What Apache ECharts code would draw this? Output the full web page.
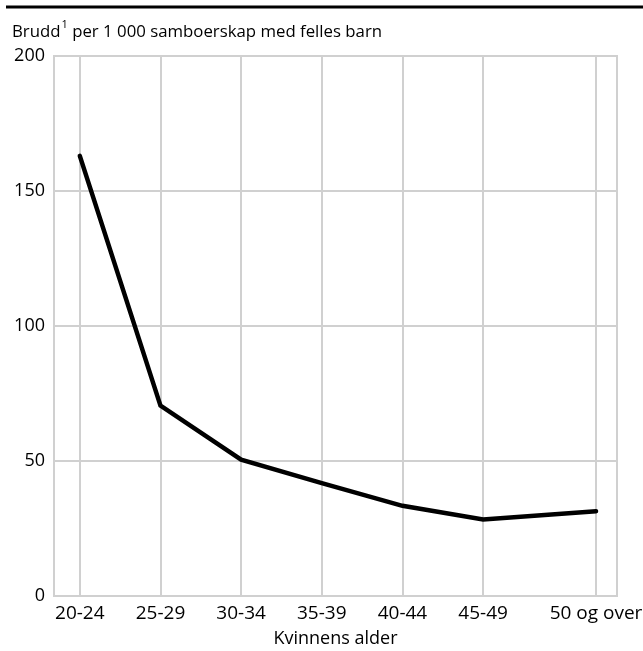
<!DOCTYPE html>
<html>
<head>
<meta charset="utf-8">
<script src="https://cdn.jsdelivr.net/npm/echarts@6/dist/echarts.min.js"></script>
<style>html,body{margin:0;padding:0;background:#fff}#c{width:643px;height:651px}</style>
</head>
<body>
<div id="c"></div>
<script>
const categories = ['20-24', '25-29', '30-34', '35-39', '40-44', '45-49', '50 og over'];
const ages = [22, 27, 32, 37, 42, 47, 54];
const values = [163, 70.5, 50.5, 41.8, 33.4, 28.3, 31.4];
const yTicks = [0, 50, 100, 150, 200];

const FONT = '"Open Sans", "Noto Sans", sans-serif';
const chart = echarts.init(document.getElementById('c'), null, {renderer: 'canvas'});
chart.setOption({
  animation: false,
  backgroundColor: '#fff',
  textStyle: {fontFamily: FONT},
  title: {
    text: '{a|Brudd}{s|1}{a| per 1 000 samboerskap med felles barn}',
    left: 7, top: 14,
    textStyle: {
      fontWeight: 'normal',
      rich: {
        a: {fontFamily: FONT, fontSize: 16.8, fontWeight: 'normal', color: '#000', verticalAlign: 'bottom', lineHeight: 22},
        s: {fontFamily: FONT, fontSize: 11, fontWeight: 'normal', color: '#000', verticalAlign: 'top', lineHeight: 22, padding: [0, 0, 9, 1]}
      }
    }
  },
  graphic: [{
    type: 'line', shape: {x1: 6, y1: 7, x2: 643, y2: 7},
    style: {stroke: '#000', lineWidth: 3}
  }],
  grid: {
    left: 54, right: 26, top: 56, bottom: 55,
    containLabel: false, outerBoundsMode: 'none',
    show: true, borderColor: '#d0d0d0', borderWidth: 2
  },
  xAxis: {
    type: 'value', min: 20.4, max: 55.3,
    name: 'Kvinnens alder', nameLocation: 'middle', nameGap: 34,
    nameTextStyle: {fontFamily: FONT, fontSize: 18, color: '#000'},
    axisLine: {show: false},
    axisTick: {show: false, customValues: ages},
    axisLabel: {
      customValues: ages, margin: 8,
      fontFamily: FONT, fontSize: 19, color: '#000',
      formatter: v => categories[ages.indexOf(v)] || ''
    },
    splitLine: {show: true, lineStyle: {color: '#d0d0d0', width: 2}}
  },
  yAxis: {
    type: 'value', min: 0, max: 200, interval: 50,
    axisLine: {show: false}, axisTick: {show: false},
    axisLabel: {
      margin: 9, fontFamily: FONT, fontSize: 18, color: '#000',
      padding: [7, 0, 0, 0],
      formatter: v => yTicks.includes(v) ? String(v) : ''
    },
    splitLine: {show: true, lineStyle: {color: '#d0d0d0', width: 2}}
  },
  series: [{
    type: 'line',
    data: ages.map((a, i) => [a, values[i]]),
    showSymbol: false, symbol: 'none',
    lineStyle: {color: '#000', width: 4.5, join: 'miter', cap: 'round'}
  }]
});
</script>
</body>
</html>
